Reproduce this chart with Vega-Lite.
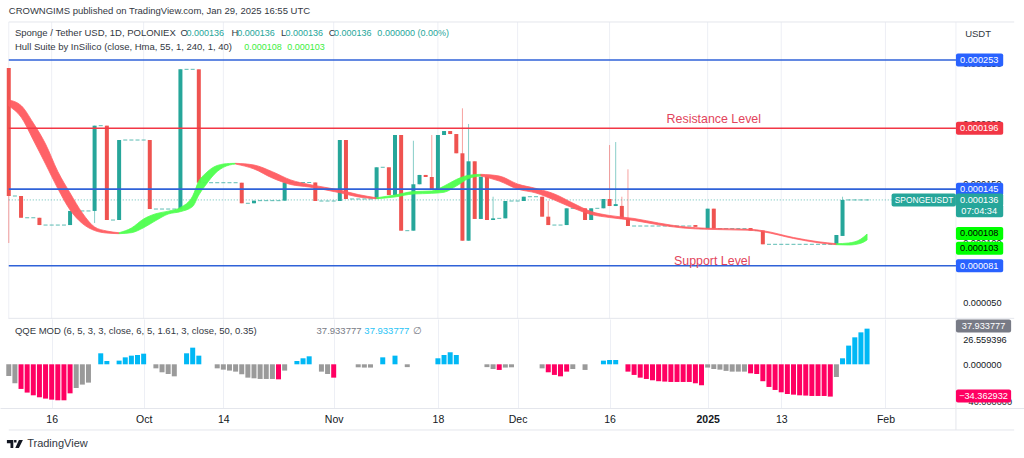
{
  "$schema": "https://vega.github.io/schema/vega-lite/v6.json",
  "description": "SPONGE/USDT daily candles with Hull Suite band and QQE MOD histogram.",
  "background": "white",
  "padding": 0,
  "spacing": 0,
  "bounds": "flush",
  "config": {"view": {"stroke": null}, "font": "Liberation Sans", "text": {"font": "Liberation Sans"}},
  "datasets": {
    "ticks": [
      {"date": "2024-09-16", "top": 0.0002848, "bottom": 0.00003645},
      {"date": "2024-10-01", "top": 0.0002848, "bottom": 0.00003645},
      {"date": "2024-10-14", "top": 0.0002848, "bottom": 0.00003645},
      {"date": "2024-11-01", "top": 0.0002848, "bottom": 0.00003645},
      {"date": "2024-11-18", "top": 0.0002848, "bottom": 0.00003645},
      {"date": "2024-12-01", "top": 0.0002848, "bottom": 0.00003645},
      {"date": "2024-12-16", "top": 0.0002848, "bottom": 0.00003645},
      {"date": "2025-01-01", "top": 0.0002848, "bottom": 0.00003645},
      {"date": "2025-01-13", "top": 0.0002848, "bottom": 0.00003645},
      {"date": "2025-01-30", "top": 0.0002848, "bottom": 0.00003645},
      {"date": "2025-02-10T12:00:00Z", "top": 0.0002848, "bottom": 0.00003645},
      {"date": "2024-09-09", "top": 0.0002848, "bottom": 0.00003645}
    ],
    "candles": [
      {"date": "2024-09-09", "open": 0.0002463, "high": 0.0002463, "low": 0.0001, "close": 0.0001393},
      {"date": "2024-09-11", "open": 0.0001393, "high": 0.0001393, "low": 0.0001211, "close": 0.0001211},
      {"date": "2024-09-14", "open": 0.0001211, "high": 0.0001211, "low": 0.000115, "close": 0.000115},
      {"date": "2024-09-19", "open": 0.000115, "high": 0.0001268, "low": 0.000115, "close": 0.0001268},
      {"date": "2024-09-23", "open": 0.0001268, "high": 0.0001981, "low": 0.0001167, "close": 0.0001981},
      {"date": "2024-09-25", "open": 0.0001981, "high": 0.0001981, "low": 0.0001192, "close": 0.0001192},
      {"date": "2024-09-27", "open": 0.0001192, "high": 0.0001861, "low": 0.0001192, "close": 0.0001861},
      {"date": "2024-10-02", "open": 0.0001861, "high": 0.0001861, "low": 0.0001284, "close": 0.0001284},
      {"date": "2024-10-07", "open": 0.0001284, "high": 0.0002452, "low": 0.0001284, "close": 0.0002452},
      {"date": "2024-10-10", "open": 0.0002452, "high": 0.0002452, "low": 0.0001504, "close": 0.0001504},
      {"date": "2024-10-17", "open": 0.0001504, "high": 0.0001504, "low": 0.0001332, "close": 0.0001332},
      {"date": "2024-10-19", "open": 0.0001332, "high": 0.0001354, "low": 0.0001332, "close": 0.0001354},
      {"date": "2024-10-24", "open": 0.0001354, "high": 0.0001506, "low": 0.0001354, "close": 0.0001506},
      {"date": "2024-10-29", "open": 0.0001506, "high": 0.0001506, "low": 0.0001351, "close": 0.0001351},
      {"date": "2024-11-02", "open": 0.0001351, "high": 0.0001861, "low": 0.0001351, "close": 0.0001861},
      {"date": "2024-11-03", "open": 0.0001861, "high": 0.0001861, "low": 0.0001368, "close": 0.0001368},
      {"date": "2024-11-08", "open": 0.0001368, "high": 0.0001633, "low": 0.0001368, "close": 0.0001633},
      {"date": "2024-11-10", "open": 0.0001633, "high": 0.0001633, "low": 0.0001401, "close": 0.0001401},
      {"date": "2024-11-11", "open": 0.0001401, "high": 0.0001903, "low": 0.0001401, "close": 0.0001903},
      {"date": "2024-11-12", "open": 0.0001903, "high": 0.0001903, "low": 0.0001103, "close": 0.0001103},
      {"date": "2024-11-14", "open": 0.0001103, "high": 0.0001855, "low": 0.0001103, "close": 0.0001491},
      {"date": "2024-11-15", "open": 0.0001491, "high": 0.0001569, "low": 0.0001491, "close": 0.0001569},
      {"date": "2024-11-16", "open": 0.0001569, "high": 0.0001569, "low": 0.0001552, "close": 0.0001552},
      {"date": "2024-11-17", "open": 0.0001552, "high": 0.0001903, "low": 0.0001449, "close": 0.0001449},
      {"date": "2024-11-18", "open": 0.0001449, "high": 0.0001903, "low": 0.0001449, "close": 0.0001903},
      {"date": "2024-11-19", "open": 0.0001903, "high": 0.0001936, "low": 0.0001903, "close": 0.0001936},
      {"date": "2024-11-20", "open": 0.0001936, "high": 0.0001936, "low": 0.0001911, "close": 0.0001911},
      {"date": "2024-11-21", "open": 0.0001911, "high": 0.0001911, "low": 0.000175, "close": 0.000175},
      {"date": "2024-11-22", "open": 0.000175, "high": 0.0002126, "low": 0.0001019, "close": 0.0001019},
      {"date": "2024-11-23", "open": 0.0001019, "high": 0.0001995, "low": 0.0001019, "close": 0.0001683},
      {"date": "2024-11-24", "open": 0.0001683, "high": 0.0001683, "low": 0.0001201, "close": 0.0001201},
      {"date": "2024-11-25", "open": 0.0001201, "high": 0.0001554, "low": 0.0001201, "close": 0.0001554},
      {"date": "2024-11-26", "open": 0.0001554, "high": 0.0001554, "low": 0.0001192, "close": 0.0001192},
      {"date": "2024-11-27", "open": 0.0001192, "high": 0.0001387, "low": 0.0001192, "close": 0.0001206},
      {"date": "2024-11-29", "open": 0.0001206, "high": 0.0001351, "low": 0.0001206, "close": 0.0001351},
      {"date": "2024-12-02", "open": 0.0001351, "high": 0.0001387, "low": 0.0001351, "close": 0.0001387},
      {"date": "2024-12-05", "open": 0.0001387, "high": 0.0001387, "low": 0.000122, "close": 0.000122},
      {"date": "2024-12-06", "open": 0.000122, "high": 0.0001351, "low": 0.000115, "close": 0.000115},
      {"date": "2024-12-09", "open": 0.000115, "high": 0.000129, "low": 0.000115, "close": 0.000129},
      {"date": "2024-12-12", "open": 0.000129, "high": 0.000129, "low": 0.0001192, "close": 0.0001192},
      {"date": "2024-12-13", "open": 0.0001192, "high": 0.000129, "low": 0.0001192, "close": 0.000129},
      {"date": "2024-12-15", "open": 0.000129, "high": 0.0001368, "low": 0.000129, "close": 0.0001368},
      {"date": "2024-12-16", "open": 0.0001368, "high": 0.0001819, "low": 0.0001309, "close": 0.0001309},
      {"date": "2024-12-17", "open": 0.0001309, "high": 0.0001844, "low": 0.0001309, "close": 0.0001325},
      {"date": "2024-12-18", "open": 0.000131, "high": 0.0001387, "low": 0.0001201, "close": 0.0001201},
      {"date": "2024-12-19", "open": 0.0001201, "high": 0.0001616, "low": 0.0001142, "close": 0.0001142},
      {"date": "2024-12-30", "open": 0.000115, "high": 0.000115, "low": 0.0001135, "close": 0.0001135},
      {"date": "2025-01-01", "open": 0.000112, "high": 0.0001287, "low": 0.000112, "close": 0.0001287},
      {"date": "2025-01-02", "open": 0.0001287, "high": 0.0001287, "low": 0.000112, "close": 0.000112},
      {"date": "2025-01-08", "open": 0.0001125, "high": 0.0001125, "low": 0.0001104, "close": 0.0001104},
      {"date": "2025-01-10", "open": 0.0001104, "high": 0.0001104, "low": 0.0000989, "close": 0.0000989},
      {"date": "2025-01-22", "open": 0.0000989, "high": 0.0001067, "low": 0.0000989, "close": 0.0001067},
      {"date": "2025-01-23", "open": 0.0001059, "high": 0.0001387, "low": 0.0001059, "close": 0.000136}
    ],
    "flats": [
      {"date": "2024-09-10", "price": 0.0001393},
      {"date": "2024-09-12", "price": 0.0001211}, {"date": "2024-09-13", "price": 0.0001211},
      {"date": "2024-09-15", "price": 0.000115}, {"date": "2024-09-16", "price": 0.000115}, {"date": "2024-09-17", "price": 0.000115}, {"date": "2024-09-18", "price": 0.000115},
      {"date": "2024-09-20", "price": 0.0001268}, {"date": "2024-09-21", "price": 0.0001268}, {"date": "2024-09-22", "price": 0.0001268},
      {"date": "2024-09-24", "price": 0.0001981},
      {"date": "2024-09-26", "price": 0.0001192},
      {"date": "2024-09-28", "price": 0.0001861}, {"date": "2024-09-29", "price": 0.0001861}, {"date": "2024-09-30", "price": 0.0001861}, {"date": "2024-10-01", "price": 0.0001861},
      {"date": "2024-10-03", "price": 0.0001284}, {"date": "2024-10-04", "price": 0.0001284}, {"date": "2024-10-05", "price": 0.0001284}, {"date": "2024-10-06", "price": 0.0001284},
      {"date": "2024-10-08", "price": 0.0002452}, {"date": "2024-10-09", "price": 0.0002452},
      {"date": "2024-10-11", "price": 0.0001504}, {"date": "2024-10-12", "price": 0.0001504}, {"date": "2024-10-13", "price": 0.0001504}, {"date": "2024-10-14", "price": 0.0001504}, {"date": "2024-10-15", "price": 0.0001504}, {"date": "2024-10-16", "price": 0.0001504},
      {"date": "2024-10-18", "price": 0.0001332},
      {"date": "2024-10-20", "price": 0.0001354}, {"date": "2024-10-21", "price": 0.0001354}, {"date": "2024-10-22", "price": 0.0001354}, {"date": "2024-10-23", "price": 0.0001354},
      {"date": "2024-10-25", "price": 0.0001506}, {"date": "2024-10-26", "price": 0.0001506}, {"date": "2024-10-27", "price": 0.0001506}, {"date": "2024-10-28", "price": 0.0001506},
      {"date": "2024-10-30", "price": 0.0001351}, {"date": "2024-10-31", "price": 0.0001351}, {"date": "2024-11-01", "price": 0.0001351},
      {"date": "2024-11-04", "price": 0.0001368}, {"date": "2024-11-05", "price": 0.0001368}, {"date": "2024-11-06", "price": 0.0001368}, {"date": "2024-11-07", "price": 0.0001368},
      {"date": "2024-11-09", "price": 0.0001633},
      {"date": "2024-11-13", "price": 0.0001103},
      {"date": "2024-11-28", "price": 0.0001206},
      {"date": "2024-11-30", "price": 0.0001351}, {"date": "2024-12-01", "price": 0.0001351},
      {"date": "2024-12-03", "price": 0.0001387}, {"date": "2024-12-04", "price": 0.0001387},
      {"date": "2024-12-07", "price": 0.000115}, {"date": "2024-12-08", "price": 0.000115},
      {"date": "2024-12-10", "price": 0.000129}, {"date": "2024-12-11", "price": 0.000129},
      {"date": "2024-12-14", "price": 0.000129},
      {"date": "2024-12-20", "price": 0.0001142}, {"date": "2024-12-21", "price": 0.0001142}, {"date": "2024-12-22", "price": 0.0001142}, {"date": "2024-12-23", "price": 0.0001142}, {"date": "2024-12-24", "price": 0.0001142}, {"date": "2024-12-25", "price": 0.0001142}, {"date": "2024-12-26", "price": 0.0001142}, {"date": "2024-12-27", "price": 0.0001142}, {"date": "2024-12-28", "price": 0.0001142}, {"date": "2024-12-29", "price": 0.0001142},
      {"date": "2024-12-31", "price": 0.000112},
      {"date": "2025-01-03", "price": 0.000112}, {"date": "2025-01-04", "price": 0.000112}, {"date": "2025-01-05", "price": 0.000112}, {"date": "2025-01-06", "price": 0.000112}, {"date": "2025-01-07", "price": 0.000112},
      {"date": "2025-01-09", "price": 0.0001104},
      {"date": "2025-01-11", "price": 0.0000989}, {"date": "2025-01-12", "price": 0.0000989}, {"date": "2025-01-13", "price": 0.0000989}, {"date": "2025-01-14", "price": 0.0000989}, {"date": "2025-01-15", "price": 0.0000989}, {"date": "2025-01-16", "price": 0.0000989}, {"date": "2025-01-17", "price": 0.0000989}, {"date": "2025-01-18", "price": 0.0000989}, {"date": "2025-01-19", "price": 0.0000989}, {"date": "2025-01-20", "price": 0.0000989}, {"date": "2025-01-21", "price": 0.0000989},
      {"date": "2025-01-24", "price": 0.000136}, {"date": "2025-01-25", "price": 0.000136}, {"date": "2025-01-26", "price": 0.000136}, {"date": "2025-01-27", "price": 0.000136}
    ],
    "hull": [
      {"seg": 1, "trend": "down", "date": "2024-09-09", "fast": 0.0002196, "slow": 0.0002145},
      {"seg": 1, "trend": "down", "date": "2024-09-11", "fast": 0.000215, "slow": 0.0002053},
      {"seg": 1, "trend": "down", "date": "2024-09-13", "fast": 0.0002003, "slow": 0.0001861},
      {"seg": 1, "trend": "down", "date": "2024-09-15", "fast": 0.0001828, "slow": 0.000166},
      {"seg": 1, "trend": "down", "date": "2024-09-17", "fast": 0.0001598, "slow": 0.0001455},
      {"seg": 1, "trend": "down", "date": "2024-09-19", "fast": 0.0001418, "slow": 0.0001276},
      {"seg": 1, "trend": "down", "date": "2024-09-21", "fast": 0.0001251, "slow": 0.0001163},
      {"seg": 1, "trend": "down", "date": "2024-09-23", "fast": 0.0001134, "slow": 0.0001104},
      {"seg": 1, "trend": "down", "date": "2024-09-25", "fast": 0.00011, "slow": 0.0001083},
      {"seg": 1, "trend": "down", "date": "2024-09-27", "fast": 0.0001086, "slow": 0.0001078},
      {"seg": 2, "trend": "up", "date": "2024-09-27", "fast": 0.0001086, "slow": 0.0001078},
      {"seg": 2, "trend": "up", "date": "2024-09-29", "fast": 0.0001125, "slow": 0.0001086},
      {"seg": 2, "trend": "up", "date": "2024-10-01", "fast": 0.0001201, "slow": 0.0001128},
      {"seg": 2, "trend": "up", "date": "2024-10-03", "fast": 0.0001245, "slow": 0.0001188},
      {"seg": 2, "trend": "up", "date": "2024-10-05", "fast": 0.0001266, "slow": 0.0001242},
      {"seg": 2, "trend": "up", "date": "2024-10-07", "fast": 0.0001297, "slow": 0.0001262},
      {"seg": 2, "trend": "up", "date": "2024-10-09", "fast": 0.0001393, "slow": 0.0001305},
      {"seg": 2, "trend": "up", "date": "2024-10-10", "fast": 0.0001518, "slow": 0.0001401},
      {"seg": 2, "trend": "up", "date": "2024-10-11", "fast": 0.0001577, "slow": 0.0001476},
      {"seg": 2, "trend": "up", "date": "2024-10-13", "fast": 0.0001648, "slow": 0.0001598},
      {"seg": 2, "trend": "up", "date": "2024-10-15", "fast": 0.0001665, "slow": 0.0001652},
      {"seg": 2, "trend": "up", "date": "2024-10-16", "fast": 0.0001666, "slow": 0.000166},
      {"seg": 3, "trend": "down", "date": "2024-10-16", "fast": 0.0001666, "slow": 0.000166},
      {"seg": 3, "trend": "down", "date": "2024-10-19", "fast": 0.0001652, "slow": 0.0001619},
      {"seg": 3, "trend": "down", "date": "2024-10-22", "fast": 0.0001596, "slow": 0.0001543},
      {"seg": 3, "trend": "down", "date": "2024-10-25", "fast": 0.0001527, "slow": 0.0001489},
      {"seg": 3, "trend": "down", "date": "2024-10-28", "fast": 0.0001489, "slow": 0.0001468},
      {"seg": 3, "trend": "down", "date": "2024-11-02", "fast": 0.0001443, "slow": 0.000142},
      {"seg": 3, "trend": "down", "date": "2024-11-05", "fast": 0.0001405, "slow": 0.0001385},
      {"seg": 3, "trend": "down", "date": "2024-11-08", "fast": 0.0001378, "slow": 0.000137},
      {"seg": 4, "trend": "up", "date": "2024-11-08", "fast": 0.0001378, "slow": 0.000137},
      {"seg": 4, "trend": "up", "date": "2024-11-11", "fast": 0.0001401, "slow": 0.0001385},
      {"seg": 4, "trend": "up", "date": "2024-11-14", "fast": 0.000143, "slow": 0.000141},
      {"seg": 4, "trend": "up", "date": "2024-11-17", "fast": 0.0001435, "slow": 0.0001415},
      {"seg": 4, "trend": "up", "date": "2024-11-19", "fast": 0.0001476, "slow": 0.0001424},
      {"seg": 4, "trend": "up", "date": "2024-11-21", "fast": 0.0001531, "slow": 0.0001476},
      {"seg": 4, "trend": "up", "date": "2024-11-23", "fast": 0.0001566, "slow": 0.0001539},
      {"seg": 4, "trend": "up", "date": "2024-11-25", "fast": 0.0001574, "slow": 0.000156},
      {"seg": 5, "trend": "down", "date": "2024-11-25", "fast": 0.0001574, "slow": 0.000156},
      {"seg": 5, "trend": "down", "date": "2024-11-28", "fast": 0.000156, "slow": 0.0001518},
      {"seg": 5, "trend": "down", "date": "2024-12-01", "fast": 0.0001493, "slow": 0.0001451},
      {"seg": 5, "trend": "down", "date": "2024-12-04", "fast": 0.0001456, "slow": 0.0001418},
      {"seg": 5, "trend": "down", "date": "2024-12-07", "fast": 0.000141, "slow": 0.0001359},
      {"seg": 5, "trend": "down", "date": "2024-12-10", "fast": 0.0001334, "slow": 0.0001293},
      {"seg": 5, "trend": "down", "date": "2024-12-13", "fast": 0.0001263, "slow": 0.0001238},
      {"seg": 5, "trend": "down", "date": "2024-12-16", "fast": 0.000123, "slow": 0.0001213},
      {"seg": 5, "trend": "down", "date": "2024-12-20", "fast": 0.0001205, "slow": 0.0001188},
      {"seg": 5, "trend": "down", "date": "2024-12-24", "fast": 0.0001167, "slow": 0.0001152},
      {"seg": 5, "trend": "down", "date": "2024-12-28", "fast": 0.0001136, "slow": 0.0001125},
      {"seg": 5, "trend": "down", "date": "2025-01-01", "fast": 0.0001123, "slow": 0.0001114},
      {"seg": 5, "trend": "down", "date": "2025-01-08", "fast": 0.0001114, "slow": 0.0001106},
      {"seg": 5, "trend": "down", "date": "2025-01-10", "fast": 0.0001103, "slow": 0.0001094},
      {"seg": 5, "trend": "down", "date": "2025-01-15", "fast": 0.0001046, "slow": 0.0001038},
      {"seg": 5, "trend": "down", "date": "2025-01-19", "fast": 0.0001011, "slow": 0.0001002},
      {"seg": 5, "trend": "down", "date": "2025-01-22", "fast": 0.0000994, "slow": 0.0000986},
      {"seg": 6, "trend": "up", "date": "2025-01-22", "fast": 0.0000994, "slow": 0.0000986},
      {"seg": 6, "trend": "up", "date": "2025-01-24", "fast": 0.0001, "slow": 0.0000983},
      {"seg": 6, "trend": "up", "date": "2025-01-26", "fast": 0.0001033, "slow": 0.0000998},
      {"seg": 6, "trend": "up", "date": "2025-01-27", "fast": 0.0001075, "slow": 0.0001025}
    ],
    "levels": [
      {"price": 0.000253, "kind": "blue"},
      {"price": 0.000196, "kind": "red"},
      {"price": 0.000145, "kind": "blue"},
      {"price": 0.000081, "kind": "blue"}
    ],
    "priceBadges": [
      {"price": 0.000253, "label": "0.000253", "kind": "blue"},
      {"price": 0.000196, "label": "0.000196", "kind": "red"},
      {"price": 0.000145, "label": "0.000145", "kind": "blue"},
      {"price": 0.000136, "label": "0.000136", "kind": "last"},
      {"price": 0.000127, "label": "07:04:34", "kind": "last"},
      {"price": 0.000108, "label": "0.000108", "kind": "lime"},
      {"price": 0.0000956, "label": "0.000103", "kind": "lime"},
      {"price": 0.000081, "label": "0.000081", "kind": "blue"}
    ],
    "headerText": [
      {"date": "2024-09-09", "price": 0.000294, "text": "CROWNGIMS published on TradingView.com, Jan 29, 2025 16:55 UTC", "role": "dark"},
      {"date": "2024-09-10", "price": 0.0002756, "text": "Sponge / Tether USD, 1D, POLONIEX", "role": "dark"},
      {"date": "2024-10-07", "price": 0.0002756, "text": "O", "role": "dark"},
      {"date": "2024-10-08", "price": 0.0002756, "text": "0.000136", "role": "teal"},
      {"date": "2024-10-15T08:00:00Z", "price": 0.0002756, "text": "H", "role": "dark"},
      {"date": "2024-10-16T06:00:00Z", "price": 0.0002756, "text": "0.000136", "role": "teal"},
      {"date": "2024-10-23T10:00:00Z", "price": 0.0002756, "text": "L", "role": "dark"},
      {"date": "2024-10-24T03:00:00Z", "price": 0.0002756, "text": "0.000136", "role": "teal"},
      {"date": "2024-10-31T05:00:00Z", "price": 0.0002756, "text": "C", "role": "dark"},
      {"date": "2024-11-01T01:00:00Z", "price": 0.0002756, "text": "0.000136", "role": "teal"},
      {"date": "2024-11-08T03:00:00Z", "price": 0.0002756, "text": "0.000000 (0.00%)", "role": "teal"},
      {"date": "2024-09-10", "price": 0.0002639, "text": "Hull Suite by InSilico (close, Hma, 55, 1, 240, 1, 40)", "role": "dark"},
      {"date": "2024-10-17T10:00:00Z", "price": 0.0002639, "text": "0.000108", "role": "lime"},
      {"date": "2024-10-24T10:00:00Z", "price": 0.0002639, "text": "0.000103", "role": "lime"},
      {"date": "2025-02-12", "price": 0.0002747, "text": "USDT", "role": "dark"}
    ],
    "qqe": [
      {"date": "2024-09-09", "value": -12.4, "state": "neutral"}, {"date": "2024-09-10", "value": -20.2, "state": "neutral"},
      {"date": "2024-09-11", "value": -26.2, "state": "bear"}, {"date": "2024-09-12", "value": -30.1, "state": "bear"},
      {"date": "2024-09-13", "value": -33, "state": "bear"}, {"date": "2024-09-14", "value": -35.1, "state": "bear"},
      {"date": "2024-09-15", "value": -36.5, "state": "bear"}, {"date": "2024-09-16", "value": -37.6, "state": "bear"},
      {"date": "2024-09-17", "value": -38.3, "state": "bear"}, {"date": "2024-09-18", "value": -38.3, "state": "bear"},
      {"date": "2024-09-19", "value": -30.9, "state": "bear"}, {"date": "2024-09-20", "value": -25.2, "state": "neutral"},
      {"date": "2024-09-21", "value": -21.6, "state": "neutral"}, {"date": "2024-09-22", "value": -19.5, "state": "neutral"},
      {"date": "2024-09-24", "value": 11.7, "state": "bull"}, {"date": "2024-09-25", "value": 3.5, "state": "bull"},
      {"date": "2024-09-27", "value": 3.9, "state": "bull"}, {"date": "2024-09-28", "value": 7.4, "state": "bull"},
      {"date": "2024-09-29", "value": 9.2, "state": "bull"}, {"date": "2024-09-30", "value": 9.9, "state": "bull"},
      {"date": "2024-10-01", "value": 11.3, "state": "bull"},
      {"date": "2024-10-03", "value": -4.3, "state": "neutral"}, {"date": "2024-10-04", "value": -8.5, "state": "neutral"},
      {"date": "2024-10-05", "value": -10.3, "state": "neutral"}, {"date": "2024-10-06", "value": -12.8, "state": "neutral"},
      {"date": "2024-10-08", "value": 11.7, "state": "bull"}, {"date": "2024-10-09", "value": 17.7, "state": "bull"},
      {"date": "2024-10-10", "value": 9.2, "state": "bull"},
      {"date": "2024-10-13", "value": -4.3, "state": "neutral"}, {"date": "2024-10-14", "value": -5.7, "state": "neutral"},
      {"date": "2024-10-15", "value": -6.7, "state": "neutral"}, {"date": "2024-10-16", "value": -7.8, "state": "neutral"},
      {"date": "2024-10-17", "value": -10.6, "state": "neutral"}, {"date": "2024-10-18", "value": -14.2, "state": "neutral"},
      {"date": "2024-10-19", "value": -14.9, "state": "neutral"}, {"date": "2024-10-20", "value": -15.6, "state": "neutral"},
      {"date": "2024-10-21", "value": -15.6, "state": "neutral"}, {"date": "2024-10-22", "value": -15.6, "state": "neutral"},
      {"date": "2024-10-23", "value": -16, "state": "bear"}, {"date": "2024-10-24", "value": -6.7, "state": "neutral"},
      {"date": "2024-10-26", "value": 3.5, "state": "bull"}, {"date": "2024-10-27", "value": 6.4, "state": "bull"},
      {"date": "2024-10-28", "value": 8.5, "state": "bull"},
      {"date": "2024-10-30", "value": -7.8, "state": "neutral"}, {"date": "2024-10-31", "value": -10.3, "state": "neutral"},
      {"date": "2024-11-01", "value": -14.2, "state": "bear"},
      {"date": "2024-11-05", "value": -3.2, "state": "neutral"}, {"date": "2024-11-06", "value": -3.5, "state": "neutral"},
      {"date": "2024-11-07", "value": -3.5, "state": "neutral"},
      {"date": "2024-11-09", "value": 7.4, "state": "bull"}, {"date": "2024-11-11", "value": 9.2, "state": "bull"},
      {"date": "2024-11-13", "value": -3, "state": "neutral"},
      {"date": "2024-11-18", "value": 6.4, "state": "bull"}, {"date": "2024-11-19", "value": 9.9, "state": "bull"},
      {"date": "2024-11-20", "value": 12.8, "state": "bull"}, {"date": "2024-11-21", "value": 9.9, "state": "bull"},
      {"date": "2024-11-26", "value": -3, "state": "neutral"}, {"date": "2024-11-27", "value": -5, "state": "neutral"},
      {"date": "2024-11-28", "value": -6, "state": "bear"}, {"date": "2024-11-29", "value": -3.5, "state": "neutral"},
      {"date": "2024-11-30", "value": -3.2, "state": "neutral"},
      {"date": "2024-12-05", "value": -4.3, "state": "neutral"}, {"date": "2024-12-06", "value": -8.5, "state": "bear"},
      {"date": "2024-12-07", "value": -11.3, "state": "bear"}, {"date": "2024-12-08", "value": -12.8, "state": "bear"},
      {"date": "2024-12-09", "value": -7.8, "state": "bear"}, {"date": "2024-12-10", "value": -5, "state": "neutral"},
      {"date": "2024-12-12", "value": -6, "state": "neutral"},
      {"date": "2024-12-15", "value": 3.9, "state": "bull"}, {"date": "2024-12-16", "value": 4.6, "state": "bull"},
      {"date": "2024-12-17", "value": 4.6, "state": "bull"},
      {"date": "2024-12-19", "value": -7.8, "state": "bear"}, {"date": "2024-12-20", "value": -11.3, "state": "bear"},
      {"date": "2024-12-21", "value": -14.2, "state": "bear"}, {"date": "2024-12-22", "value": -15.6, "state": "bear"},
      {"date": "2024-12-23", "value": -17, "state": "bear"}, {"date": "2024-12-24", "value": -18, "state": "bear"},
      {"date": "2024-12-25", "value": -18.4, "state": "bear"}, {"date": "2024-12-26", "value": -18.8, "state": "bear"},
      {"date": "2024-12-27", "value": -18.8, "state": "bear"}, {"date": "2024-12-28", "value": -18.8, "state": "bear"},
      {"date": "2024-12-29", "value": -18.8, "state": "bear"}, {"date": "2024-12-30", "value": -20.2, "state": "bear"},
      {"date": "2024-12-31", "value": -22.3, "state": "bear"},
      {"date": "2025-01-01", "value": -3.5, "state": "neutral"}, {"date": "2025-01-02", "value": -5, "state": "neutral"},
      {"date": "2025-01-03", "value": -5.7, "state": "neutral"}, {"date": "2025-01-04", "value": -7, "state": "neutral"},
      {"date": "2025-01-05", "value": -7.8, "state": "neutral"}, {"date": "2025-01-06", "value": -7.8, "state": "neutral"},
      {"date": "2025-01-07", "value": -7.8, "state": "neutral"},
      {"date": "2025-01-08", "value": -9.6, "state": "bear"}, {"date": "2025-01-09", "value": -10.3, "state": "bear"},
      {"date": "2025-01-10", "value": -18, "state": "bear"}, {"date": "2025-01-11", "value": -24.1, "state": "bear"},
      {"date": "2025-01-12", "value": -27.3, "state": "bear"}, {"date": "2025-01-13", "value": -29.8, "state": "bear"},
      {"date": "2025-01-14", "value": -31.6, "state": "bear"}, {"date": "2025-01-15", "value": -32.3, "state": "bear"},
      {"date": "2025-01-16", "value": -33, "state": "bear"}, {"date": "2025-01-17", "value": -33.3, "state": "bear"},
      {"date": "2025-01-18", "value": -33.7, "state": "bear"}, {"date": "2025-01-19", "value": -33.7, "state": "bear"},
      {"date": "2025-01-20", "value": -33.7, "state": "bear"}, {"date": "2025-01-21", "value": -34.36, "state": "bear"},
      {"date": "2025-01-22", "value": -13.5, "state": "neutral"},
      {"date": "2025-01-23", "value": 6.4, "state": "bull"}, {"date": "2025-01-24", "value": 19.9, "state": "bull"},
      {"date": "2025-01-25", "value": 28.7, "state": "bull"}, {"date": "2025-01-26", "value": 34, "state": "bull"},
      {"date": "2025-01-27", "value": 37.93, "state": "bull"}
    ],
    "qqeText": [
      {"date": "2024-09-10", "value": 35.4, "text": "QQE MOD (6, 5, 3, 3, close, 6, 5, 1.61, 3, close, 50, 0.35)", "role": "dark"},
      {"date": "2024-10-29T05:00:00Z", "value": 35.4, "text": "37.933777", "role": "gray"},
      {"date": "2024-11-06", "value": 35.4, "text": "37.933777", "role": "bull"},
      {"date": "2024-11-14", "value": 35.4, "text": "∅", "role": "gray"},
      {"date": "2024-09-12", "value": -84.8, "text": "TradingView", "role": "dark"}
    ],
    "qqeBadges": [
      {"value": 40.7, "label": "37.933777", "kind": "gray"},
      {"value": -33.7, "label": "−34.362932", "kind": "bear"}
    ]
  },
  "vconcat": [
    {
      "width": 1024,
      "height": 319,
      "resolve": {"scale": {"color": "independent"}},
      "layer": [
        {
          "data": {"name": "ticks"},
          "mark": {"type": "rule", "color": "#edeff5", "strokeWidth": 1},
          "encoding": {
            "x": {"field": "date", "type": "temporal", "axis": null, "scale": {"type": "utc", "padding": 0, "domain": [{"year": 2024, "month": 9, "date": 7, "hours": 13, "minutes": 40, "utc": true}, {"year": 2025, "month": 2, "date": 21, "hours": 14, "minutes": 24, "utc": true}]}},
            "y": {"field": "top", "type": "quantitative", "scale": {"domain": [0.00003645, 0.00030317], "zero": false, "nice": false, "padding": 0}, "axis": {"orient": "right", "offset": -68.3, "title": null, "values": [0.00025, 0.0002, 0.00015, 0.0001, 0.00005], "format": ".6f", "grid": false, "ticks": false, "domain": false, "labelPadding": 7, "labelFontSize": 9.2, "labelColor": "#131722"}},
            "y2": {"field": "bottom"}
          }
        },
        {
          "data": {"values": [{"price": 0.0002848, "start": "2024-09-09", "end": "2025-02-20"}, {"price": 0.000037, "start": "2024-09-09", "end": "2025-02-20"}]},
          "mark": {"type": "rule", "color": "#e4e6ec", "strokeWidth": 1},
          "encoding": {
            "x": {"field": "start", "type": "temporal", "axis": null},
            "x2": {"field": "end"},
            "y": {"field": "price", "type": "quantitative"}
          }
        },
        {
          "data": {"name": "candles"},
          "mark": {"type": "rule", "strokeWidth": 1, "opacity": 0.55},
          "encoding": {
            "x": {"field": "date", "type": "temporal", "axis": null},
            "y": {"field": "high", "type": "quantitative"},
            "y2": {"field": "low"},
            "color": {"condition": {"test": "datum.close >= datum.open", "value": "#26a69a"}, "value": "#ef5350"}
          }
        },
        {
          "data": {"name": "flats"},
          "mark": {"type": "tick", "orient": "horizontal", "size": 4, "thickness": 1, "color": "#26a69a", "opacity": 0.75},
          "encoding": {
            "x": {"field": "date", "type": "temporal", "axis": null},
            "y": {"field": "price", "type": "quantitative"}
          }
        },
        {
          "data": {"values": [{"price": 0.000136, "start": "2024-09-09", "end": "2025-01-31"}]},
          "mark": {"type": "rule", "color": "#26a69a", "strokeDash": [1, 2], "opacity": 0.7},
          "encoding": {
            "x": {"field": "start", "type": "temporal", "axis": null},
            "x2": {"field": "end"},
            "y": {"field": "price", "type": "quantitative"}
          }
        },
        {
          "data": {"name": "candles"},
          "mark": {"type": "bar", "size": 4},
          "encoding": {
            "x": {"field": "date", "type": "temporal", "axis": null},
            "y": {"field": "open", "type": "quantitative"},
            "y2": {"field": "close"},
            "color": {"condition": {"test": "datum.close >= datum.open", "value": "#26a69a"}, "value": "#ef5350"}
          }
        },
        {
          "data": {"name": "hull"},
          "mark": {"type": "area", "interpolate": "monotone", "opacity": 0.95, "strokeWidth": 0.8},
          "encoding": {
            "x": {"field": "date", "type": "temporal", "axis": null},
            "y": {"field": "fast", "type": "quantitative"},
            "y2": {"field": "slow"},
            "detail": {"field": "seg"},
            "color": {"field": "trend", "type": "nominal", "legend": null, "scale": {"domain": ["down", "up"], "range": ["#ff5a5f", "#4dff4d"]}},
            "stroke": {"field": "trend", "type": "nominal", "legend": null, "scale": {"domain": ["down", "up"], "range": ["#ff5a5f", "#4dff4d"]}}
          }
        },
        {
          "data": {"name": "levels"},
          "mark": {"type": "rule", "strokeWidth": 1.6},
          "encoding": {
            "x": {"datum": {"year": 2024, "month": 9, "date": 9, "utc": true}, "type": "temporal", "axis": null},
            "x2": {"datum": {"year": 2025, "month": 2, "date": 10, "hours": 12, "utc": true}},
            "y": {"field": "price", "type": "quantitative"},
            "color": {"field": "kind", "type": "nominal", "legend": null, "scale": {"domain": ["blue", "red"], "range": ["#2f62d8", "#f23645"]}}
          }
        },
        {
          "data": {"values": [
            {"date": "2025-01-02", "price": 0.0002037, "text": "Resistance Level"},
            {"date": "2025-01-01T18:00:00Z", "price": 0.000085, "text": "Support Level"}
          ]},
          "mark": {"type": "text", "fontSize": 12.4, "color": "#e2445c", "align": "center", "baseline": "middle"},
          "encoding": {
            "x": {"field": "date", "type": "temporal", "axis": null},
            "y": {"field": "price", "type": "quantitative"},
            "text": {"field": "text"}
          }
        },
        {
          "data": {"name": "headerText"},
          "mark": {"type": "text", "align": "left", "baseline": "middle"},
          "encoding": {
            "x": {"field": "date", "type": "temporal", "axis": null},
            "y": {"field": "price", "type": "quantitative"},
            "text": {"field": "text"},
            "size": {"condition": {"test": "datum.role != 'dark'", "value": 9}, "value": 9.5},
            "color": {"field": "role", "type": "nominal", "legend": null, "scale": {"domain": ["dark", "teal", "lime"], "range": ["#333842", "#26a69a", "#3dee3d"]}}
          }
        },
        {
          "data": {"values": [{"price": 0.000136, "label": "SPONGEUSDT"}]},
          "mark": {"type": "bar", "size": 13, "color": "#26a69a", "cornerRadius": 2},
          "encoding": {
            "x": {"datum": {"year": 2025, "month": 1, "date": 31, "utc": true}, "type": "temporal", "axis": null},
            "x2": {"datum": {"year": 2025, "month": 2, "date": 10, "hours": 12, "utc": true}},
            "y": {"field": "price", "type": "quantitative"}
          }
        },
        {
          "data": {"values": [{"price": 0.000136, "label": "SPONGEUSDT"}]},
          "mark": {"type": "text", "fontSize": 8.4, "color": "white", "align": "center", "baseline": "middle"},
          "encoding": {
            "x": {"datum": {"year": 2025, "month": 2, "date": 5, "hours": 7, "utc": true}, "type": "temporal", "axis": null},
            "y": {"field": "price", "type": "quantitative"},
            "text": {"field": "label"}
          }
        },
        {
          "data": {"name": "priceBadges"},
          "mark": {"type": "bar", "size": 13, "cornerRadius": 2},
          "encoding": {
            "x": {"datum": {"year": 2025, "month": 2, "date": 10, "hours": 12, "utc": true}, "type": "temporal", "axis": null},
            "x2": {"datum": {"year": 2025, "month": 2, "date": 18, "hours": 5, "utc": true}},
            "y": {"field": "price", "type": "quantitative"},
            "color": {"field": "kind", "type": "nominal", "legend": null, "scale": {"domain": ["blue", "red", "last", "lime"], "range": ["#2962ff", "#f23645", "#26a69a", "#00ff00"]}}
          }
        },
        {
          "data": {"name": "priceBadges"},
          "transform": [{"filter": "datum.kind != 'lime'"}],
          "mark": {"type": "text", "fontSize": 9.2, "color": "white", "align": "center", "baseline": "middle"},
          "encoding": {
            "x": {"datum": {"year": 2025, "month": 2, "date": 14, "hours": 7, "utc": true}, "type": "temporal", "axis": null},
            "y": {"field": "price", "type": "quantitative"},
            "text": {"field": "label"}
          }
        },
        {
          "data": {"name": "priceBadges"},
          "transform": [{"filter": "datum.kind == 'lime'"}],
          "mark": {"type": "text", "fontSize": 9.2, "color": "black", "align": "center", "baseline": "middle"},
          "encoding": {
            "x": {"datum": {"year": 2025, "month": 2, "date": 14, "hours": 7, "utc": true}, "type": "temporal", "axis": null},
            "y": {"field": "price", "type": "quantitative"},
            "text": {"field": "label"}
          }
        }
      ]
    },
    {
      "width": 1024,
      "height": 89,
      "resolve": {"scale": {"color": "independent"}},
      "layer": [
        {
          "data": {"name": "qqe"},
          "mark": {"type": "bar", "size": 5},
          "encoding": {
            "x": {"field": "date", "type": "temporal", "scale": {"type": "utc", "padding": 0, "domain": [{"year": 2024, "month": 9, "date": 7, "hours": 13, "minutes": 40, "utc": true}, {"year": 2025, "month": 2, "date": 21, "hours": 14, "minutes": 24, "utc": true}]}, "axis": {"title": null, "values": [{"year": 2024, "month": 9, "date": 16, "utc": true}, {"year": 2024, "month": 10, "date": 1, "utc": true}, {"year": 2024, "month": 10, "date": 14, "utc": true}, {"year": 2024, "month": 11, "date": 1, "utc": true}, {"year": 2024, "month": 11, "date": 18, "utc": true}, {"year": 2024, "month": 12, "date": 1, "utc": true}, {"year": 2024, "month": 12, "date": 16, "utc": true}, {"year": 2025, "month": 1, "date": 1, "utc": true}, {"year": 2025, "month": 1, "date": 13, "utc": true}, {"year": 2025, "month": 1, "date": 30, "utc": true}], "labelExpr": "utcmonth(datum.value) == 0 && utcdate(datum.value) == 30 ? 'Feb' : utcdate(datum.value) == 1 ? (utcmonth(datum.value) == 0 ? '2025' : utcFormat(datum.value, '%b')) : utcdate(datum.value)", "labelFontWeight": {"condition": {"test": "utcmonth(datum.value) == 0 && utcdate(datum.value) == 1", "value": "bold"}, "value": "normal"}, "grid": true, "gridColor": "#edeff5", "ticks": false, "labelPadding": 6, "labelFontSize": 10.5, "labelColor": "#131722", "domainColor": "#e4e6ec", "labelOverlap": false}},
            "y": {"field": "value", "type": "quantitative", "scale": {"domain": [-46.5, 48.2], "nice": false, "padding": 0}, "axis": {"orient": "right", "offset": -68.3, "title": null, "values": [26.559396, 0, -40], "format": ".6f", "grid": false, "ticks": false, "domain": false, "labelPadding": 7, "labelFontSize": 9.2, "labelColor": "#131722"}},
            "color": {"field": "state", "type": "nominal", "legend": null, "scale": {"domain": ["bear", "neutral", "bull"], "range": ["#ff0062", "#9a9a9a", "#00b8f5"]}}
          }
        },
        {
          "data": {"values": [{"date": "2025-02-10T12:00:00Z", "top": 48.2, "bottom": -69.9}]},
          "mark": {"type": "rule", "color": "#e4e6ec"},
          "encoding": {
            "x": {"field": "date", "type": "temporal"},
            "y": {"field": "top", "type": "quantitative"},
            "y2": {"field": "bottom"}
          }
        },
        {
          "data": {"values": [{"value": -69.9, "start": "2024-09-09", "end": "2025-02-20"}]},
          "mark": {"type": "rule", "color": "#e4e6ec"},
          "encoding": {
            "x": {"field": "start", "type": "temporal"},
            "x2": {"field": "end"},
            "y": {"field": "value", "type": "quantitative"}
          }
        },
        {
          "data": {"name": "qqeText"},
          "mark": {"type": "text", "align": "left", "baseline": "middle"},
          "encoding": {
            "x": {"field": "date", "type": "temporal"},
            "y": {"field": "value", "type": "quantitative"},
            "text": {"field": "text"},
            "size": {"condition": {"test": "datum.text == 'TradingView'", "value": 11}, "value": 9.5},
            "color": {"field": "role", "type": "nominal", "legend": null, "scale": {"domain": ["dark", "gray", "bull"], "range": ["#333842", "#787b86", "#29c4f6"]}}
          }
        },
        {
          "data": {"values": [{"date": "2024-09-10", "value": -84.8}]},
          "mark": {"type": "point", "filled": true, "opacity": 1, "color": "#131722", "size": 256, "shape": "M-1 -0.5 H-0.2 V0.5 H-0.55 V-0.1 H-1 Z M-0.1 -0.5 H0.2 V-0.2 H-0.1 Z M0.5 -0.5 H1 L0.5 0.5 H0.05 Z"},
          "encoding": {
            "x": {"field": "date", "type": "temporal"},
            "y": {"field": "value", "type": "quantitative"}
          }
        },
        {
          "data": {"name": "qqeBadges"},
          "mark": {"type": "bar", "size": 13, "cornerRadius": 2},
          "encoding": {
            "x": {"datum": {"year": 2025, "month": 2, "date": 10, "hours": 12, "utc": true}, "type": "temporal"},
            "x2": {"datum": {"year": 2025, "month": 2, "date": 19, "hours": 12, "utc": true}},
            "y": {"field": "value", "type": "quantitative"},
            "color": {"field": "kind", "type": "nominal", "legend": null, "scale": {"domain": ["gray", "bear"], "range": ["#787b86", "#ff0062"]}}
          }
        },
        {
          "data": {"name": "qqeBadges"},
          "mark": {"type": "text", "fontSize": 9.2, "color": "white", "align": "center", "baseline": "middle"},
          "encoding": {
            "x": {"datum": {"year": 2025, "month": 2, "date": 15, "utc": true}, "type": "temporal"},
            "y": {"field": "value", "type": "quantitative"},
            "text": {"field": "label"}
          }
        }
      ]
    }
  ]
}
